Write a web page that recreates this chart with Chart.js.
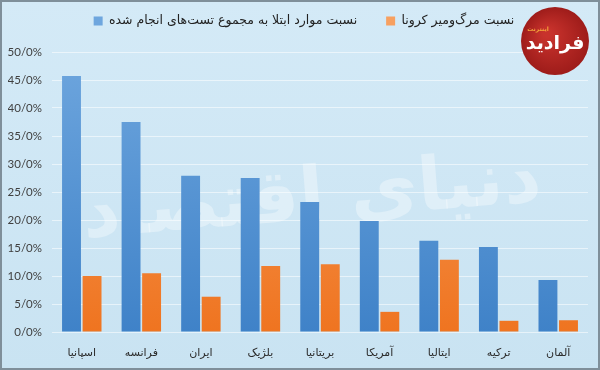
<!DOCTYPE html>
<html>
<head>
<meta charset="utf-8">
<script src="https://cdn.jsdelivr.net/npm/chart.js@4.4.1/dist/chart.umd.min.js"></script>
<style>
  html, body { margin: 0; padding: 0; background: #cfe7f5; }
  #wrap { position: relative; width: 600px; height: 370px; }
</style>
</head>
<body>
<div id="wrap"><canvas id="c" width="600" height="370"></canvas></div>
<script>
// ---- data ----
const categories = ['اسپانیا', 'فرانسه', 'ایران', 'بلژیک', 'بریتانیا', 'آمریکا', 'ایتالیا', 'ترکیه', 'آلمان'];
const infectionRate = [45.7, 37.5, 27.9, 27.5, 23.2, 19.8, 16.3, 15.2, 9.3];
const deathRate = [10.0, 10.5, 6.3, 11.8, 12.1, 3.6, 12.9, 2.0, 2.1];
const seriesNames = ['نسبت موارد ابتلا به مجموع تست‌های انجام شده', 'نسبت مرگ‌ومیر کرونا'];
const yTickValues = [0, 5, 10, 15, 20, 25, 30, 35, 40, 45, 50];

const persianFont = '"DejaVu Sans", sans-serif';
const numFont = 'Lato, "Liberation Sans", sans-serif';

function vGrad(ctx, chartArea, top, bottom) {
  const g = ctx.createLinearGradient(0, chartArea.top, 0, chartArea.bottom);
  g.addColorStop(0, top);
  g.addColorStop(1, bottom);
  return g;
}

const bgPlugin = {
  id: 'bgPlugin',
  beforeDraw(chart) {
    const ctx = chart.ctx;
    ctx.save();
    const g = ctx.createLinearGradient(0, 0, 0, chart.height);
    g.addColorStop(0, '#d4eaf7');
    g.addColorStop(1, '#c9e3f2');
    ctx.fillStyle = g;
    ctx.fillRect(0, 0, chart.width, chart.height);
    ctx.restore();
  },
  beforeDatasetsDraw(chart) {
    // faint watermark
    const ctx = chart.ctx;
    ctx.save();
    ctx.globalAlpha = 0.35;
    ctx.fillStyle = '#ffffff';
    ctx.font = 'bold 74px "DejaVu Sans", sans-serif';
    ctx.textAlign = 'center';
    ctx.textBaseline = 'middle';
    ctx.translate(312, 200);
    ctx.rotate(-0.08);
    ctx.fillText('دنیای اقتصاد', 0, 0);
    ctx.restore();
  },
  afterDraw(chart) {
    const ctx = chart.ctx;
    ctx.save();
    // logo
    const cx = 555, cy = 41, r = 34;
    const rg = ctx.createRadialGradient(cx - 8, cy - 8, 4, cx, cy, r);
    rg.addColorStop(0, '#c8322c');
    rg.addColorStop(1, '#9e1c1a');
    ctx.fillStyle = rg;
    ctx.beginPath();
    ctx.arc(cx, cy, r, 0, Math.PI * 2);
    ctx.fill();
    ctx.fillStyle = '#ffffff';
    ctx.font = 'bold 19px "DejaVu Sans", sans-serif';
    ctx.textAlign = 'center';
    ctx.textBaseline = 'middle';
    ctx.fillText('فرادید', cx, cy + 3);
    ctx.fillStyle = '#f2a33a';
    ctx.font = 'bold 6px "DejaVu Sans", sans-serif';
    ctx.fillText('اینترنت', cx - 17, cy - 12);
    // frame
    ctx.strokeStyle = '#7f8f9a';
    ctx.lineWidth = 2;
    ctx.strokeRect(1, 1, chart.width - 2, chart.height - 2);
    ctx.restore();
  }
};

new Chart(document.getElementById('c'), {
  type: 'bar',
  data: {
    labels: categories,
    datasets: [
      {
        label: seriesNames[0],
        data: infectionRate,
        backgroundColor: (c) => c.chart.chartArea ? vGrad(c.chart.ctx, c.chart.chartArea, '#6ea6de', '#3f82c8') : '#4f8fd2',
        categoryPercentage: 0.69,
        barPercentage: 0.92
      },
      {
        label: seriesNames[1],
        data: deathRate,
        backgroundColor: (c) => c.chart.chartArea ? vGrad(c.chart.ctx, c.chart.chartArea, '#f7a060', '#ef7420') : '#f07c2a',
        categoryPercentage: 0.69,
        barPercentage: 0.92
      }
    ]
  },
  options: {
    responsive: false,
    animation: false,
    devicePixelRatio: 1,
    layout: { padding: { top: -14.25, right: 0, left: 8, bottom: 0 } },
    plugins: {
      legend: {
        position: 'top',
        weight: 3000,
        labels: {
          boxWidth: 9,
          boxHeight: 9,
          padding: 29,
          color: '#222222',
          font: { family: persianFont, size: 12.5 },
          textDirection: 'rtl'
        }
      },
      title: {
        display: true,
        text: '',
        weight: 100,
        padding: 0,
        font: { size: 14.75, lineHeight: 1 }
      },
      tooltip: { enabled: false }
    },
    scales: {
      x: {
        grid: { display: false, drawTicks: false },
        border: { display: false },
        ticks: {
          color: '#2b2b2b',
          padding: 15,
          font: { family: persianFont, size: 11 }
        },
        afterFit(s) { s.height = 38; }
      },
      y: {
        min: 0,
        max: 50,
        grid: { color: 'rgba(255,255,255,0.55)', drawTicks: false, lineWidth: 1 },
        border: { display: false },
        afterBuildTicks(s) { s.ticks = yTickValues.map(v => ({ value: v })); },
        afterFit(s) { s.width = 44; },
        ticks: {
          color: '#404040',
          padding: 10,
          font: { family: numFont, size: 11.5 },
          callback: (v) => Number(v).toFixed(1).replace('.', '/') + '%'
        }
      },
      yRight: {
        axis: 'y',
        position: 'right',
        grid: { display: false, drawTicks: false },
        border: { display: false },
        ticks: { display: false },
        afterFit(s) { s.width = 12; }
      }
    }
  },
  plugins: [bgPlugin]
});
</script>
</body>
</html>
